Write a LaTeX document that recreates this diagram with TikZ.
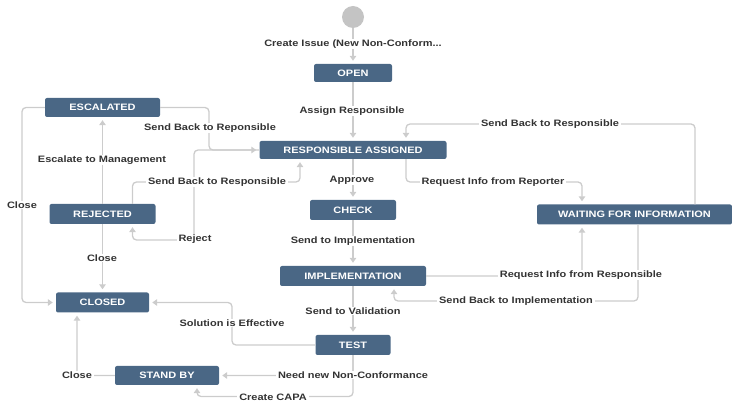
\documentclass[tikz,border=0pt]{standalone}
\usepackage{fontspec}
\setmainfont[FakeStretch=1.18]{Liberation Sans}
\usetikzlibrary{arrows.meta,calc}
\definecolor{stateblue}{HTML}{4A6785}
\definecolor{linegray}{HTML}{CCCCCC}
\definecolor{labelgray}{HTML}{333333}
\definecolor{startgray}{HTML}{C4C4C4}
\begin{document}
\begin{tikzpicture}[x=1pt,y=-1pt,
  stbox/.style={fill=stateblue, rounded corners=2pt, text=white, inner sep=0pt,
    font=\fontsize{9.3}{11}\selectfont\bfseries},
  conn/.style={draw=linegray, line width=1.3pt, rounded corners=4pt,
    -{Triangle[length=5pt,width=6.5pt]}, shorten >=3pt},
  lbl/.style={fill=white, inner xsep=2pt, inner ysep=1pt, text=labelgray,
    font=\fontsize{9.3}{11}\selectfont\bfseries}]
\useasboundingbox (0,0) rectangle (732,403);

% states
\node[circle, fill=startgray, minimum size=22pt, inner sep=0pt] (start) at (353,17) {};
\node[stbox, minimum width=78pt, minimum height=18pt] (open) at (353,73) {OPEN};
\node[stbox, minimum width=187pt, minimum height=18pt] (resp) at (353,150) {RESPONSIBLE ASSIGNED};
\node[stbox, minimum width=115pt, minimum height=19pt] (esc) at (102.5,107.5) {ESCALATED};
\node[stbox, minimum width=106pt, minimum height=20pt] (rej) at (102.5,214) {REJECTED};
\node[stbox, minimum width=93pt, minimum height=20pt] (closed) at (102.5,302.5) {CLOSED};
\node[stbox, minimum width=104pt, minimum height=19pt] (standby) at (167,375.5) {STAND BY};
\node[stbox, minimum width=86pt, minimum height=20pt] (check) at (353,210) {CHECK};
\node[stbox, minimum width=146pt, minimum height=20pt] (impl) at (353,276) {IMPLEMENTATION};
\node[stbox, minimum width=75pt, minimum height=20pt] (test) at (353,345) {TEST};
\node[stbox, minimum width=195pt, minimum height=20pt] (wait) at (634.5,214.5) {WAITING FOR INFORMATION};

% transitions
\draw[conn] (start) -- (open);
\draw[conn] (open) -- (resp);
\draw[conn] (esc.east) -| (209,128) |- (resp.west);
\draw[conn] (rej.north) -- (esc.south);
\draw[conn] ([xshift=30pt]rej.north) |- (300,182) -- ([xshift=-53pt]resp.south);
\draw[conn] (resp.west) -| (194,240) -| ([xshift=30pt]rej.south);
\draw[conn] (resp) -- (check);
\draw[conn] ([xshift=53pt]resp.south) |- (582,182) -- ([xshift=-52.5pt]wait.north);
\draw[conn] ([xshift=60.5pt]wait.north) |- (406,124) -- ([xshift=53pt]resp.north);
\draw[conn] (esc.west) -| (22,250) |- (closed.west);
\draw[conn] (rej) -- (closed);
\draw[conn] (check) -- (impl);
\draw[conn] (impl.east) -| ([xshift=-52.5pt]wait.south);
\draw[conn] ([xshift=3.5pt]wait.south) |- (394,301) -- ([xshift=41pt]impl.south);
\draw[conn] (impl) -- (test);
\draw[conn] (test.west) -| (232,320) |- (closed.east);
\draw[conn] (test.south) |- (standby.east);
\draw[conn] (test.south) |- (197,396.5) -- ([xshift=30pt]standby.south);
\draw[conn] (standby.west) -| ([xshift=-25.5pt]closed.south);

% transition names
\node[lbl] (l1) at (353,44) {Create Issue (New Non-Conform...};
\node[lbl] (l2) at (352,111) {Assign Responsible};
\node[lbl] (l3) at (210,128) {Send Back to Reponsible};
\node[lbl] (l4) at (102,160) {Escalate to Management};
\node[lbl] (l5) at (217,182) {Send Back to Responsible};
\node[lbl] (l6) at (195,239) {Reject};
\node[lbl] (l7) at (352,180) {Approve};
\node[lbl] (l8) at (493,182) {Request Info from Reporter};
\node[lbl] (l9) at (550,124) {Send Back to Responsible};
\node[lbl] (l10) at (22,205) {Close};
\node[lbl] (l11) at (102,258) {Close};
\node[lbl] (l12) at (353,241) {Send to Implementation};
\node[lbl] (l13) at (581,275) {Request Info from Responsible};
\node[lbl] (l14) at (516,301) {Send Back to Implementation};
\node[lbl] (l15) at (353,311) {Send to Validation};
\node[lbl] (l16) at (232,323) {Solution is Effective};
\node[lbl] (l17) at (353,375) {Need new Non-Conformance};
\node[lbl, inner ysep=0pt] (l18) at (273,397) {Create CAPA};
\node[lbl] (l19) at (77,375) {Close};
\end{tikzpicture}
\end{document}
